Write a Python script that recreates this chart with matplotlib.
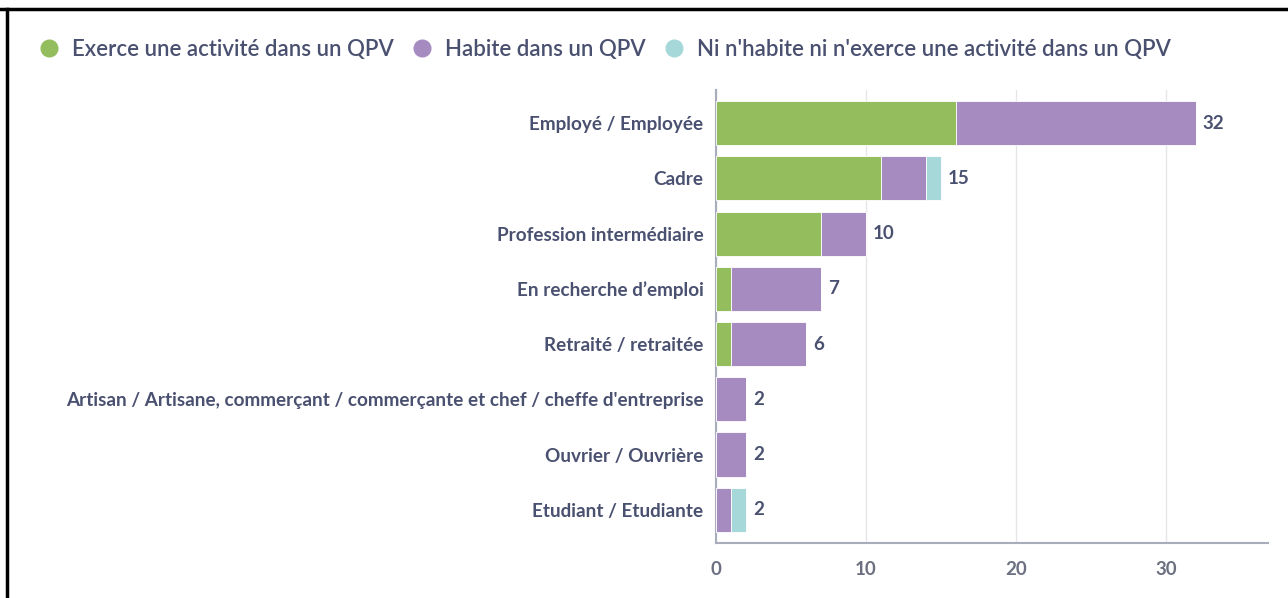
import matplotlib.pyplot as plt
from matplotlib.lines import Line2D

categories = [
    "Employé / Employée",
    "Cadre",
    "Profession intermédiaire",
    "En recherche d\u2019emploi",
    "Retraité / retraitée",
    "Artisan / Artisane, commerçant / commerçante et chef / cheffe d'entreprise",
    "Ouvrier / Ouvrière",
    "Etudiant / Etudiante",
]
exerce = [16, 11, 7, 1, 1, 0, 0, 0]
habite = [16, 3, 3, 6, 5, 2, 2, 1]
ni = [0, 1, 0, 0, 0, 0, 0, 1]
series_names = ["Exerce une activité dans un QPV", "Habite dans un QPV",
                "Ni n'habite ni n'exerce une activité dans un QPV"]
colors = ["#94bd5e", "#a68bc1", "#a7d8d9"]
text_col = "#4a5170"
tick_col = "#6b6f80"

plt.rcParams['font.family'] = ['Lato', 'DejaVu Sans']

fig = plt.figure(figsize=(12.88, 5.98), dpi=100)
ax = fig.add_axes([0.5559, 0.092, 0.4286, 0.7575])

y = list(range(len(categories)))
left = [0] * len(categories)
for vals, name, c in zip([exerce, habite, ni], series_names, colors):
    ax.barh(y, vals, left=left, height=0.8, color=c, edgecolor="white",
            linewidth=0.6, label=name, zorder=3)
    left = [l + v for l, v in zip(left, vals)]

for yi, tot in zip(y, left):
    ax.text(tot + 0.45, yi, str(tot), va="center", ha="left", fontsize=13.5,
            fontweight="bold", color=text_col)

ax.set_xlim(0, 36.8)
ax.set_ylim(7.6, -0.6)
ax.set_yticks(y)
ax.set_yticklabels(categories, fontsize=13.6, fontweight="bold", color=text_col)
ax.set_xticks([0, 10, 20, 30])
ax.tick_params(axis="x", labelsize=13.5, labelcolor=tick_col, length=0, pad=13)
for lab in ax.get_xticklabels():
    lab.set_fontweight("bold")
ax.tick_params(axis="y", length=0, pad=9)
ax.grid(axis="x", color="#e6e6ea", linewidth=1, zorder=0)
for s in ["top", "right"]:
    ax.spines[s].set_visible(False)
ax.spines["left"].set_color("#a9acbb")
ax.spines["bottom"].set_color("#a9acbb")
ax.spines["left"].set_linewidth(1.5)
ax.spines["bottom"].set_linewidth(1.5)

handles = [Line2D([], [], marker="o", linestyle="", markersize=12,
                  markerfacecolor=c, markeredgecolor=c) for c in colors]
leg = fig.legend(handles, series_names, loc="center left", bbox_to_anchor=(0.014, 0.918),
                 ncol=3, frameon=False, fontsize=16, labelcolor=text_col,
                 handletextpad=0.55, columnspacing=0.75, handlelength=1.0)
for t in leg.get_texts():
    t.set_fontweight("semibold")

# screenshot frame
fig.add_artist(Line2D([0, 1], [1 - 9 / 598, 1 - 9 / 598], transform=fig.transFigure,
                      color="black", linewidth=2.5))
fig.add_artist(Line2D([7 / 1288, 7 / 1288], [0, 1 - 9 / 598], transform=fig.transFigure,
                      color="black", linewidth=2.5))

fig.savefig("out.png", dpi=100)
